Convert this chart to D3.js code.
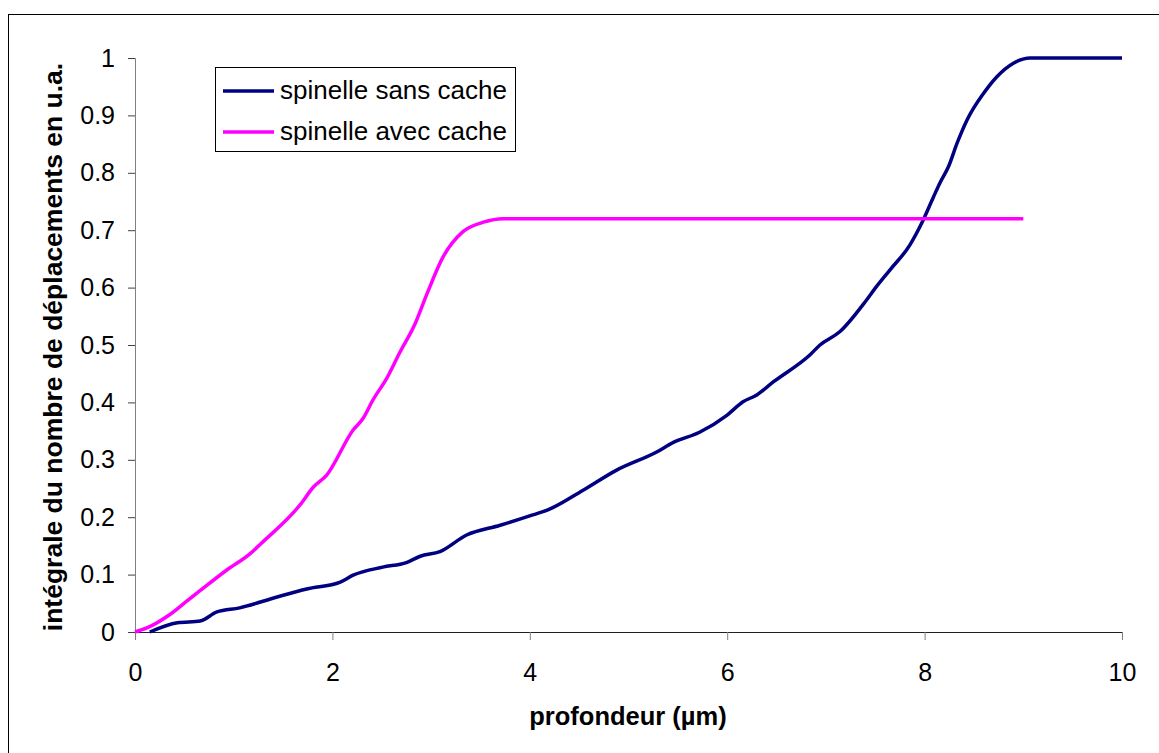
<!DOCTYPE html>
<html><head><meta charset="utf-8">
<script src="https://cdn.jsdelivr.net/npm/d3@7"></script>
<style>body{margin:0;background:#fff}svg{display:block;font-family:"Liberation Sans",Arial,sans-serif}</style>
</head><body><svg id="c" width="1159" height="753"></svg>
<script>
const seriesNames = ["spinelle sans cache", "spinelle avec cache"];
const sansX = [0.15,0.43,0.66,0.83,1.06,1.44,1.74,2.08,2.21,2.51,2.75,2.89,3.09,3.36,3.70,4.03,4.2,4.54,4.88,5.29,5.45,5.72,6.0,6.16,6.3,6.47,6.84,6.94,7.14,7.41,7.5,7.65,7.85,7.97,8.09,8.16,8.24,8.33,8.43,8.6,8.73,8.9,9.07,10];
const sansY = [0,0.016,0.019,0.035,0.042,0.061,0.075,0.087,0.099,0.113,0.121,0.132,0.14,0.169,0.186,0.204,0.214,0.247,0.282,0.314,0.33,0.348,0.378,0.401,0.413,0.436,0.483,0.5,0.523,0.578,0.599,0.631,0.674,0.712,0.758,0.784,0.81,0.852,0.892,0.939,0.967,0.991,1.0,1.0];
const avecX = [0,0.12,0.35,0.54,0.63,0.93,1.17,1.27,1.67,1.81,1.94,2.21,2.31,2.41,2.55,2.68,2.84,2.96,3.12,3.32,3.53,3.73,9.0];
const avecY = [0,0.007,0.03,0.056,0.068,0.108,0.137,0.153,0.221,0.253,0.273,0.352,0.372,0.404,0.442,0.486,0.538,0.59,0.653,0.697,0.714,0.72,0.72];
const xTicks = [0,2,4,6,8,10];
const yTicks = [0,0.1,0.2,0.3,0.4,0.5,0.6,0.7,0.8,0.9,1];
const xTitle = "profondeur (µm)";
const yTitle = "intégrale du nombre de déplacements en u.a.";
const colors = ["#000080", "#FF00FF"];

const svg = d3.select("#c");
svg.append("rect").attr("x",8.5).attr("y",14.5).attr("width",1300).attr("height",900)
  .attr("fill","none").attr("stroke","#000").attr("stroke-width",1);

const x = d3.scaleLinear().domain([0,10]).range([135,1122]);
const y = d3.scaleLinear().domain([0,1]).range([632,58]);

const yAx = svg.append("g").attr("transform","translate(135,0)")
  .call(d3.axisLeft(y).tickValues(yTicks).tickSize(7).tickPadding(13).tickFormat(d3.format("~g")));
yAx.select(".domain").attr("stroke","#808080");
yAx.selectAll(".tick line").attr("stroke","#404040");
yAx.selectAll("text").attr("font-size",25).attr("fill","#000").attr("font-family","Liberation Sans, Arial, sans-serif");

const xAx = svg.append("g").attr("transform","translate(0,632)")
  .call(d3.axisBottom(x).tickValues(xTicks).tickSize(8).tickPadding(23).tickFormat(d3.format("~g")));
xAx.select(".domain").attr("stroke","#202020");
xAx.selectAll(".tick line").attr("stroke","#808080");
xAx.selectAll("text").attr("font-size",25).attr("fill","#000").attr("font-family","Liberation Sans, Arial, sans-serif");

const line = d3.line().x(d=>x(d[0])).y(d=>y(d[1])).curve(d3.curveMonotoneX);
const data = [d3.zip(sansX,sansY), d3.zip(avecX,avecY)];
data.forEach((d,i)=>{
  svg.append("path").attr("d",line(d)).attr("fill","none").attr("stroke",colors[i])
    .attr("stroke-width",3.5).attr("stroke-linejoin","round");
});

svg.append("text").attr("x",628).attr("y",725).attr("text-anchor","middle")
  .attr("font-size",25.5).attr("font-weight","bold").text(xTitle);
svg.append("text").attr("transform","translate(62,347) rotate(-90)").attr("text-anchor","middle")
  .attr("font-size",26.5).attr("font-weight","bold").text(yTitle);

const lg = svg.append("g");
lg.append("rect").attr("x",215.5).attr("y",67.5).attr("width",300).attr("height",84)
  .attr("fill","#fff").attr("stroke","#000");
seriesNames.forEach((n,i)=>{
  const yy = 91 + i*41;
  lg.append("line").attr("x1",223).attr("x2",274).attr("y1",yy).attr("y2",yy)
    .attr("stroke",colors[i]).attr("stroke-width",3.5);
  lg.append("text").attr("x",280).attr("y",yy+8).attr("font-size",26).text(n);
});
</script></body></html>
